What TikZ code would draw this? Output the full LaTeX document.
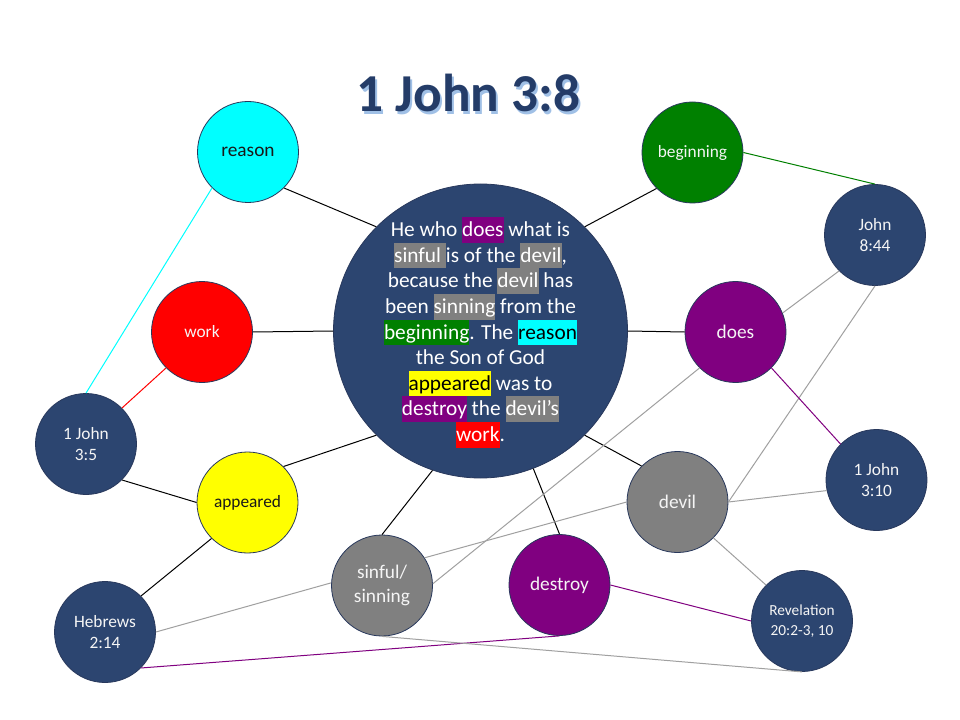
\documentclass[tikz,border=0pt]{standalone}
\usepackage{fontspec}
\setmainfont{Carlito}
\definecolor{navy}{RGB}{44,69,112}
\definecolor{edgec}{RGB}{40,56,92}
\definecolor{ccyan}{RGB}{0,255,255}
\definecolor{cgreen}{RGB}{0,128,0}
\definecolor{cred}{RGB}{255,0,0}
\definecolor{cpurple}{RGB}{128,0,128}
\definecolor{cyellow}{RGB}{255,255,0}
\definecolor{cgray}{RGB}{128,128,128}
\definecolor{lgray}{RGB}{160,160,160}
\definecolor{titlec}{RGB}{36,60,104}
\definecolor{shadowc}{RGB}{160,192,230}
\definecolor{ltext}{RGB}{245,245,245}
\newcommand{\hlb}[2]{{\setlength{\fboxsep}{0pt}\colorbox{#1}{\rule[-4.6pt]{0pt}{19.1pt}#2}}}
\tikzset{
  bub/.style={circle, minimum size=75.75pt, inner sep=0pt, draw=edgec, line width=0.6pt,
    align=center, text=ltext, font=\fontsize{13pt}{16pt}\selectfont},
  bigtext/.style={font=\fontsize{14.5pt}{18pt}\selectfont},
  conn/.style={line width=0.75pt},
}
\begin{document}
\begin{tikzpicture}[x=0.75pt,y=-0.75pt]
\useasboundingbox (0,0) rectangle (960,720);
\fill[white] (0,0) rectangle (960,720);

% title with its light shadow, as one text
\node[anchor=base, text=titlec, font=\fontsize{40pt}{48pt}\selectfont\bfseries] (title) at (468.5,112)
{\makebox[0pt][l]{\hspace{1.6pt}\raisebox{-1.8pt}{\color{shadowc}1 John 3:8}}1 John 3:8};

% central circle
\node[circle, minimum size=220.5pt, inner sep=0pt, fill=navy, draw=edgec, line width=0.6pt] (C) at (480.5,331) {};
\node[align=center, inner sep=0pt, text=white, font=\fontsize{16pt}{19.2pt}\selectfont] (Ct) at (480.5,332.4)
{He who \hlb{cpurple}{does} what is\\
\hlb{cgray}{sinful }is of the \hlb{cgray}{devil},\\
because the \hlb{cgray}{devil} has\\
been \hlb{cgray}{sinning} from the\\
\hlb{cgreen}{beginning}. The \hlb{ccyan}{\color{black}reason}\\
the Son of God\\
\hlb{cyellow}{\color{black}appeared} was to\\
\hlb{cpurple}{destroy} the \hlb{cgray}{devil’s}\\
\hlb{cred}{work}.};

% word circles
\node[bub, bigtext, fill=ccyan, text=black!90] (reason) at (248,152) {reason};
\node[bub, fill=cgreen] (begin) at (692.5,152.5) {beginning};
\node[bub, fill=cred] (work) at (202,332) {work};
\node[bub, bigtext, fill=cpurple] (does) at (735.5,332) {does};
\node[bub, fill=cyellow, text=black!90] (appeared) at (247.5,502.5) {appeared};
\node[bub, bigtext, fill=cgray] (devil) at (677.5,502) {devil};
\node[bub, bigtext, fill=cgray] (sinful) at (382,585.5) {sinful/\\sinning};
\node[bub, bigtext, fill=cpurple] (destroy) at (559.5,585) {destroy};

% reference circles
\node[bub, fill=navy] (jA) at (86,444) {1 John\\3:5};
\node[bub, fill=navy] (jB) at (875,235) {John\\8:44};
\node[bub, fill=navy] (jC) at (876.5,480) {1 John\\3:10};
\node[bub, fill=navy] (heb) at (105,632) {Hebrews\\2:14};
\node[bub, fill=navy, font=\fontsize{11.5pt}{15pt}\selectfont] (rev) at (802,621) {Revelation\\20:2-3, 10};

% connectors to the centre
\draw[conn, black] (reason.south east) -- (C.north west);
\draw[conn, black] (begin.south west) -- (C.north east);
\draw[conn, black] (work.east) -- (C.west);
\draw[conn, black] (does.west) -- (C.east);
\draw[conn, black] (appeared.north east) -- (C.south west);
\draw[conn, black] (devil.north west) -- (C.south east);
\draw[conn, black] (sinful.north) -- (C.251);
\draw[conn, black] (destroy.north) -- (C.291);

% other connectors
\draw[conn, ccyan] (jA.north) -- (reason.south west);
\draw[conn, cred] (jA.north east) -- (work.south west);
\draw[conn, black] (jA.south east) -- (appeared.west);
\draw[conn, black] (heb.north east) -- (appeared.south west);
\draw[conn, cgreen] (begin.east) -- (jB.north);
\draw[conn, lgray] (jB.south west) -- (does.22);
\draw[conn, lgray] (jB.south) -- (devil.east);
\draw[conn, cpurple] (does.south east) -- (jC.north west);
\draw[conn, lgray] (devil.east) -- (jC.192);
\draw[conn, lgray] (devil.south east) -- (rev.north west);
\draw[conn, cpurple] (destroy.east) -- (rev.west);
\draw[conn, lgray] (heb.east) -- (sinful.177);
\draw[conn, cpurple] (heb.south east) -- (destroy.south);
\draw[conn, lgray] (sinful.south) -- (rev.south);
\draw[conn, lgray] (sinful.2) -- (does.south west);
\draw[conn, lgray] (sinful.33) -- (devil.west);
\end{tikzpicture}
\end{document}
